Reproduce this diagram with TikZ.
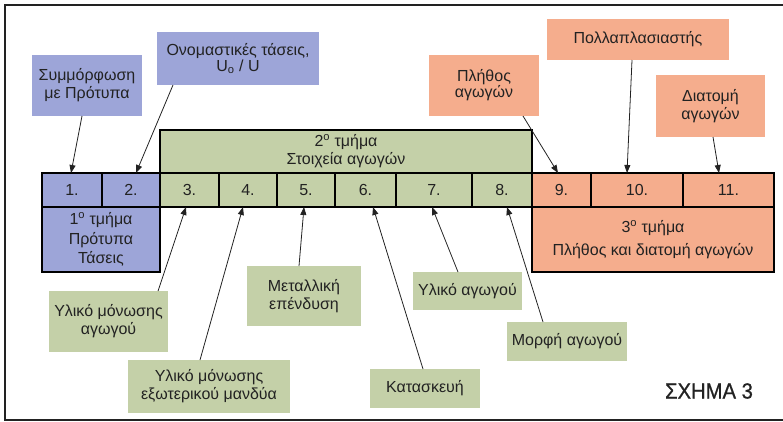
\documentclass[tikz,border=0pt]{standalone}
\usepackage{fontspec}
\setmainfont{Liberation Sans}
\newfontfamily\capfont{Liberation Sans}[FakeStretch=0.92,FakeBold=0.8]
\usetikzlibrary{arrows.meta}
\definecolor{cblue}{RGB}{157,165,216}
\definecolor{cgreen}{RGB}{196,208,168}
\definecolor{csalmon}{RGB}{245,173,141}
\definecolor{ink}{RGB}{34,34,34}
\begin{document}
\begin{tikzpicture}[x=1pt,y=-1pt,
  every node/.style={font=\fontsize{16}{18}\selectfont, text=ink},
  box/.style={anchor=north west, inner sep=0pt, outer sep=0pt, align=center},
  cell/.style={box, draw=black, line width=1.6pt},
  arr/.style={draw=ink, line width=0.8pt, -{Triangle[length=8pt,width=6pt]}},
  frame/.style={draw=ink, line width=2pt},
]
\useasboundingbox (0,0) rectangle (783,421);
\draw[frame] (783,5) -- (5,5) -- (5,420) -- (783,420);

% header and blocks
\node[cell, fill=cgreen, minimum width=372pt, minimum height=43pt] (hdr) at (160,130)
  {2\textsuperscript{ο} τμήμα\\Στοιχεία αγωγών};
\node[cell, fill=cblue, minimum width=118pt, minimum height=65pt,
  font=\fontsize{16}{19.5}\selectfont] (b1) at (42,207)
  {1\textsuperscript{ο} τμήμα\\Πρότυπα\\Τάσεις};
\node[cell, fill=csalmon, minimum width=242pt, minimum height=65pt,
  font=\fontsize{16}{22}\selectfont] (b3) at (532,207)
  {3\textsuperscript{ο} τμήμα\\Πλήθος και διατομή αγωγών};

% cells
\node[cell, fill=cblue,   minimum width=60pt, minimum height=34pt] (c1)  at (42,173)  {1.};
\node[cell, fill=cblue,   minimum width=58pt, minimum height=34pt] (c2)  at (102,173) {2.};
\node[cell, fill=cgreen,  minimum width=59pt, minimum height=34pt] (c3)  at (160,173) {3.};
\node[cell, fill=cgreen,  minimum width=58pt, minimum height=34pt] (c4)  at (219,173) {4.};
\node[cell, fill=cgreen,  minimum width=58pt, minimum height=34pt] (c5)  at (277,173) {5.};
\node[cell, fill=cgreen,  minimum width=61pt, minimum height=34pt] (c6)  at (335,173) {6.};
\node[cell, fill=cgreen,  minimum width=76pt, minimum height=34pt] (c7)  at (396,173) {7.};
\node[cell, fill=cgreen,  minimum width=60pt, minimum height=34pt] (c8)  at (472,173) {8.};
\node[cell, fill=csalmon, minimum width=59pt, minimum height=34pt] (c9)  at (532,173) {9.};
\node[cell, fill=csalmon, minimum width=92pt, minimum height=34pt] (c10) at (591,173) {10.};
\node[cell, fill=csalmon, minimum width=91pt, minimum height=34pt] (c11) at (683,173) {11.};

% callouts
\node[box, fill=cblue, minimum width=110pt, minimum height=61pt] (s1) at (32,55)
  {Συμμόρφωση\\με Πρότυπα};
\node[box, fill=cblue, minimum width=162pt, minimum height=53pt,
  font=\fontsize{16}{16}\selectfont] (s2) at (157,32)
  {Ονομαστικές τάσεις,\\U\textsubscript{o} / U};
\node[box, fill=csalmon, minimum width=110pt, minimum height=61pt,
  font=\fontsize{16}{16}\selectfont] (p1) at (429,55)
  {Πλήθος\\αγωγών};
\node[box, fill=csalmon, minimum width=182pt, minimum height=41pt] (p2) at (547,19)
  {Πολλαπλασιαστής};
\node[box, fill=csalmon, minimum width=109pt, minimum height=62pt] (p3) at (656,75)
  {Διατομή\\αγωγών};
\node[box, fill=cgreen, minimum width=119pt, minimum height=61pt] (g1) at (49,291)
  {Υλικό μόνωσης\\αγωγού};
\node[box, fill=cgreen, minimum width=162pt, minimum height=53pt] (g2) at (128,360)
  {Υλικό μόνωσης\\εξωτερικού μανδύα};
\node[box, fill=cgreen, minimum width=114pt, minimum height=60pt] (g3) at (247,266)
  {Μεταλλική\\επένδυση};
\node[box, fill=cgreen, minimum width=110pt, minimum height=39pt] (g4) at (370,369)
  {Κατασκευή};
\node[box, fill=cgreen, minimum width=109pt, minimum height=38pt] (g5) at (413,272)
  {Υλικό αγωγού};
\node[box, fill=cgreen, minimum width=120pt, minimum height=39pt] (g6) at (507,322)
  {Μορφή αγωγού};

\node[font=\capfont\fontsize{22}{24}\selectfont, inner sep=0pt] (fig) at (709,391) {ΣΧΗΜΑ 3};

% arrows
\draw[arr] ([xshift=-5pt]s1.south) -- ([xshift=-1pt]c1.north);
\draw[arr] ([xshift=-65pt]s2.south) -- ([xshift=5pt]c2.north);
\draw[arr] ([xshift=39pt]p1.south) -- ([xshift=-3.5pt]c9.north);
\draw[arr] ([xshift=-6pt]p2.south) -- ([xshift=-10pt]c10.north);
\draw[arr] ([xshift=2.5pt]p3.south) -- ([xshift=-9.5pt]c11.north);
\draw[arr] ([xshift=49.5pt]g1.north) -- ([xshift=-3.5pt]c3.south);
\draw[arr] ([xshift=-9pt]g2.north) -- ([xshift=-5pt]c4.south);
\draw[arr] ([xshift=-5pt]g3.north) -- ([xshift=-2pt]c5.south);
\draw[arr] ([xshift=-2pt]g4.north) -- ([xshift=7.5pt]c6.south);
\draw[arr] ([xshift=-9.5pt]g5.north) -- ([xshift=-2pt]c7.south);
\draw[arr] ([xshift=-24pt]g6.north) -- ([xshift=5pt]c8.south);
\end{tikzpicture}
\end{document}
